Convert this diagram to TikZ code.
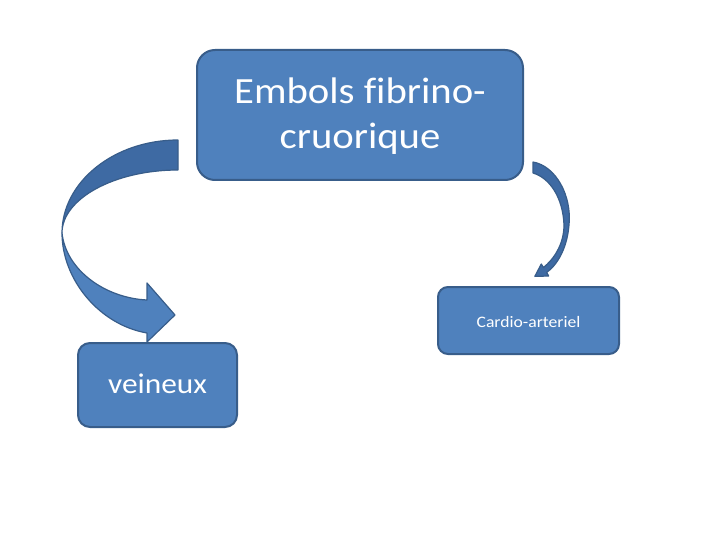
\documentclass[tikz,border=0pt]{standalone}
\usepackage{fontspec}
\setmainfont[FakeStretch=1.1, Ligatures=NoCommon]{Carlito}

\definecolor{boxfill}{HTML}{4F81BD}
\definecolor{boxline}{HTML}{385D8A}
\definecolor{backfill}{HTML}{3E6AA3}

\tikzset{
    block/.style={draw=boxline, fill=boxfill, line width=2pt, text=white, align=center, inner sep=0pt},
    bent/.style={draw=boxline, fill=boxfill, line width=1.2pt, line join=round},
}

\begin{document}
\begin{tikzpicture}[x=1pt,y=-1pt]
    \useasboundingbox (0,0) rectangle (720,540);

    \node[block, rounded corners=18pt, minimum width=326pt, minimum height=130pt, text height=77pt, text depth=9pt,
          font=\fontsize{37}{45}\selectfont] (embol) at (360,115) {Embols fibrino-\\cruorique};
    \node[block, rounded corners=10pt, minimum width=181pt, minimum height=67pt,
          text height=13pt, text depth=0pt, font=\fontsize{16}{19}\selectfont] (cardio) at (528.5,320.5) {Cardio-arteriel};
    \node[block, rounded corners=12pt, minimum width=159pt, minimum height=84pt,
          text height=16pt, text depth=0pt, font=\fontsize{28.5}{34}\selectfont] (veineux) at (157.5,385) {veineux};

    % left curved arrow
    \draw[bent, fill=backfill] (178,140) .. controls (114,140) and (62,182) .. (62,233)
        .. controls (62,199) and (114,170) .. (178,170) -- cycle;
    \draw[bent] (62,233) .. controls (62,280) and (100,325) .. (147,333) -- (147,342) -- (175,315)
        -- (147,283) -- (147,300) .. controls (105,298) and (66,270) .. (62,233) -- cycle;

    % right curved arrow
    \draw[bent, fill=backfill] (533,162) .. controls (556,166) and (572,196) .. (569,225)
        .. controls (567,250) and (556,266) .. (546.6,272.5) -- (548.7,276) -- (534.8,276.4)
        -- (541.3,264) -- (543.4,267.5) .. controls (553,260) and (564,245) .. (564,225)
        .. controls (563,198) and (550,178) .. (533,173) -- cycle;
\end{tikzpicture}
\end{document}
